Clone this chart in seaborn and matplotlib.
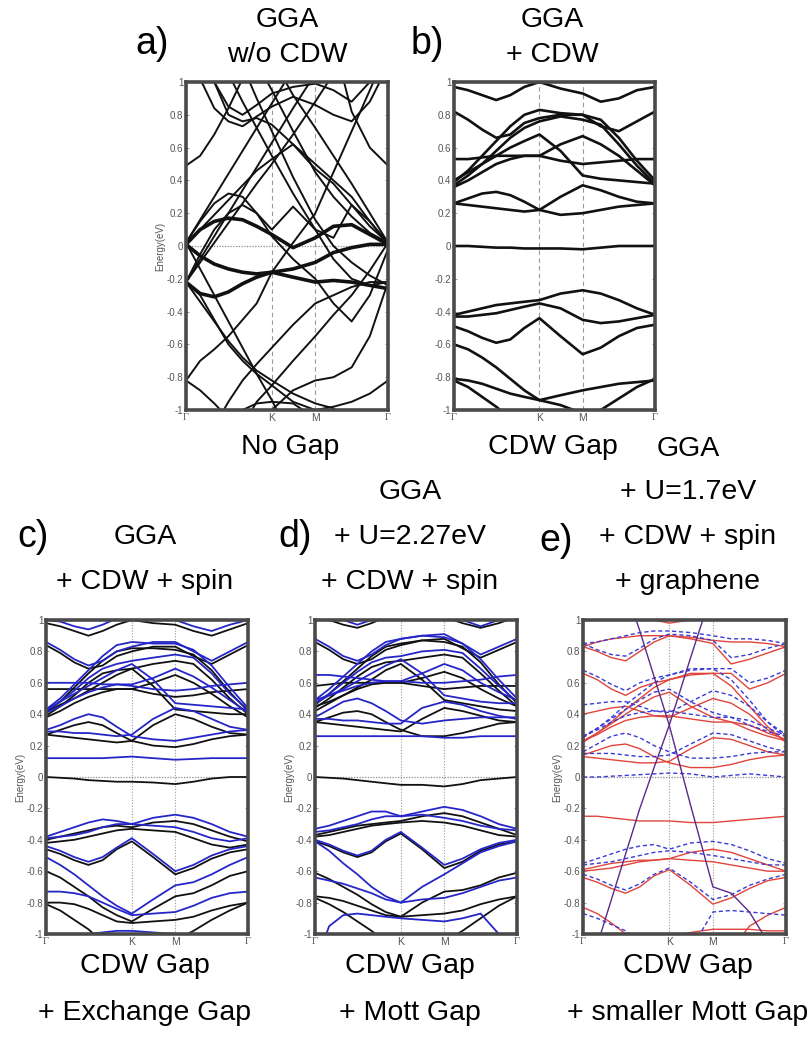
import matplotlib
matplotlib.use("Agg")
import matplotlib.pyplot as plt
import pandas as pd
import seaborn as sns

sns.set_theme(style="white")
plt.rcParams['font.family'] = ['Liberation Sans', 'DejaVu Sans']

TITLE_FONT = ["Liberation Sans", "DejaVu Sans"]
TITLE_SIZE, LABEL_SIZE = 20.5, 27

# k-path coordinate (Gamma - K - M - Gamma), normalised to 1
K_PATH = [0.0, 0.07, 0.14, 0.21, 0.28, 0.35, 0.425, 0.53, 0.64, 0.73, 0.82, 0.91, 1.0]
HS_POS = [0.0, 0.425, 0.64, 1.0]
HS_LABELS = ["Γ", "K", "M", "Γ"]
Y_TICKS = [1, 0.8, 0.6, 0.4, 0.2, 0, -0.2, -0.4, -0.6, -0.8, -1]
Y_TICK_LABELS = ["1", "0.8", "0.6", "0.4", "0.2", "0", "-0.2", "-0.4", "-0.6", "-0.8", "-1"]

# ---------------- a) GGA without CDW ----------------
bands_a_thick = {
    "t1": [0.01, 0.10, 0.15, 0.17, 0.16, 0.12, 0.07, -0.01, 0.05, 0.12, 0.13, 0.07, 0.01],
    "t2": [0.01, -0.06, -0.11, -0.14, -0.16, -0.17, -0.16, -0.14, -0.10, -0.04, -0.01, 0.01, 0.01],
    "t3": [-0.22, -0.29, -0.31, -0.28, -0.23, -0.19, -0.16, -0.19, -0.22, -0.21, -0.22, -0.24, -0.26],
}
bands_a_thin = {
    "a01": [0.49, 0.55, 0.68, 0.84, 1.02, 1.25, 1.40, 1.40, 1.40, 1.25, 0.82, 0.60, 0.49],
    "a02": [1.30, 1.02, 0.84, 0.76, 0.73, 0.79, 0.85, 0.91, 0.86, 0.80, 0.76, 0.88, 1.10],
    "a03": [1.40, 1.30, 1.00, 0.80, 0.76, 0.78, 0.74, 0.62, 0.50, 0.40, 0.30, 0.15, 0.02],
    "a04": [-0.22, -0.08, 0.06, 0.20, 0.34, 0.48, 0.63, 0.84, 1.05, 1.30, 1.40, 1.40, 1.40],
    "a05": [0.02, 0.16, 0.30, 0.44, 0.58, 0.72, 0.87, 1.08, 1.30, 1.40, 1.40, 1.40, 1.40],
    "a06": [0.02, 0.10, 0.19, 0.28, 0.37, 0.46, 0.53, 0.62, 0.47, 0.38, 0.25, 0.12, 0.02],
    "a07": [1.40, 1.40, 1.40, 1.40, 1.30, 1.12, 0.95, 0.70, 0.45, 0.30, 0.18, 0.08, 0.02],
    "a08": [1.40, 1.40, 1.40, 1.30, 1.10, 0.90, 0.70, 0.42, 0.16, 0.00, -0.10, -0.18, -0.24],
    "a09": [0.02, -0.14, -0.30, -0.46, -0.62, -0.78, -0.94, -1.20, -1.40, -1.40, -1.40, -1.40, -1.40],
    "a10": [-0.22, -0.34, -0.46, -0.58, -0.68, -0.76, -0.82, -0.90, -0.96, -0.99, -1.10, -1.30, -1.40],
    "a11": [-1.40, -1.40, -1.40, -1.30, -1.10, -0.95, -0.85, -0.70, -0.55, -0.42, -0.30, -0.15, 0.02],
    "a12": [-1.40, -1.30, -1.10, -0.95, -0.82, -0.72, -0.62, -0.48, -0.35, -0.30, -0.25, -0.22, -0.22],
    "a13": [0.02, 0.15, 0.26, 0.32, 0.30, 0.20, 0.06, -0.08, -0.20, -0.35, -0.46, -0.30, -0.02],
    "a14": [-0.22, -0.05, 0.10, 0.20, 0.25, 0.20, 0.10, 0.24, 0.10, 0.05, 0.25, 0.15, 0.01],
    "a15": [-0.22, -0.30, -0.45, -0.60, -0.70, -0.78, -0.85, -0.95, -1.00, -1.20, -1.40, -1.40, -1.40],
    "a16": [-0.82, -0.88, -0.96, -1.05, -1.00, -0.96, -0.95, -0.96, -1.05, -1.20, -1.40, -1.40, -1.40],
    "a17": [-1.40, -1.40, -1.40, -1.40, -1.30, -1.15, -1.00, -0.88, -0.82, -0.80, -0.74, -0.55, -0.22],
    "a18": [-1.40, -1.40, -1.40, -1.40, -1.40, -1.40, -1.30, -1.10, -1.00, -0.98, -0.95, -0.90, -0.82],
    "a19": [-0.82, -0.70, -0.63, -0.55, -0.45, -0.35, -0.16, 0.02, 0.20, 0.45, 0.70, 0.95, 1.20],
    "a20": [1.40, 1.40, 1.40, 1.40, 1.40, 1.30, 1.15, 0.92, 0.72, 0.55, 0.38, 0.20, 0.02],
    "a21": [-0.22, -0.10, 0.02, 0.14, 0.26, 0.38, 0.50, 0.68, 0.88, 1.05, 1.25, 1.40, 1.40],
    "a22": [1.40, 1.40, 1.25, 1.05, 0.88, 0.72, 0.55, 0.32, 0.10, -0.08, -0.20, -0.24, -0.22],
    "a23": [1.40, 1.20, 1.00, 0.85, 0.80, 0.86, 0.93, 0.97, 0.99, 0.95, 0.88, 1.00, 1.20],
}

# ---------------- b) GGA + CDW ----------------
bands_b = {
    "b01": [0.97, 0.95, 0.92, 0.89, 0.92, 0.97, 1.00, 0.96, 0.93, 0.88, 0.90, 0.95, 0.97],
    "b02": [0.82, 0.77, 0.71, 0.66, 0.68, 0.75, 0.78, 0.80, 0.80, 0.73, 0.70, 0.76, 0.82],
    "b03": [0.39, 0.46, 0.55, 0.64, 0.73, 0.80, 0.83, 0.81, 0.80, 0.77, 0.66, 0.52, 0.40],
    "b04": [0.37, 0.43, 0.50, 0.58, 0.66, 0.72, 0.76, 0.79, 0.77, 0.74, 0.62, 0.49, 0.38],
    "b05": [0.40, 0.45, 0.50, 0.55, 0.60, 0.64, 0.68, 0.58, 0.43, 0.41, 0.40, 0.39, 0.38],
    "b06": [0.53, 0.53, 0.54, 0.55, 0.55, 0.55, 0.55, 0.52, 0.50, 0.51, 0.52, 0.53, 0.53],
    "b07": [0.36, 0.40, 0.45, 0.50, 0.53, 0.55, 0.55, 0.62, 0.67, 0.62, 0.55, 0.46, 0.37],
    "b08": [0.26, 0.29, 0.32, 0.33, 0.31, 0.27, 0.22, 0.19, 0.20, 0.22, 0.24, 0.25, 0.26],
    "b09": [0.26, 0.25, 0.24, 0.23, 0.22, 0.21, 0.22, 0.30, 0.37, 0.34, 0.30, 0.27, 0.26],
    "b10": [0.00, 0.00, -0.005, -0.01, -0.01, -0.015, -0.015, -0.015, -0.02, -0.01, 0.00, 0.00, 0.00],
    "b11": [-0.42, -0.40, -0.38, -0.36, -0.35, -0.34, -0.33, -0.29, -0.27, -0.29, -0.33, -0.38, -0.42],
    "b12": [-0.43, -0.43, -0.42, -0.41, -0.39, -0.37, -0.35, -0.38, -0.45, -0.47, -0.46, -0.44, -0.42],
    "b13": [-0.49, -0.52, -0.56, -0.59, -0.57, -0.50, -0.44, -0.55, -0.66, -0.62, -0.55, -0.50, -0.48],
    "b14": [-0.60, -0.63, -0.68, -0.74, -0.81, -0.88, -0.94, -0.91, -0.88, -0.86, -0.84, -0.83, -0.82],
    "b15": [-0.81, -0.82, -0.84, -0.87, -0.90, -0.92, -0.94, -0.97, -1.02, -1.10, -1.20, -1.30, -1.40],
    "b16": [-0.82, -0.86, -0.92, -0.98, -1.05, -1.15, -1.30, -1.40, -1.40, -1.40, -1.40, -1.40, -1.40],
    "b17": [-1.40, -1.40, -1.40, -1.40, -1.40, -1.30, -1.20, -1.10, -1.05, -1.00, -0.93, -0.86, -0.81],
}

# ---------------- c) GGA + CDW + spin ----------------
bands_c_up = {
    "c01": [0.98, 0.96, 0.93, 0.90, 0.93, 0.97, 1.00, 0.98, 0.97, 0.93, 0.90, 0.94, 0.98],
    "c02": [0.84, 0.79, 0.73, 0.69, 0.71, 0.77, 0.80, 0.83, 0.83, 0.77, 0.72, 0.78, 0.84],
    "c03": [0.41, 0.48, 0.57, 0.66, 0.74, 0.80, 0.82, 0.82, 0.81, 0.78, 0.68, 0.54, 0.42],
    "c04": [0.39, 0.45, 0.52, 0.60, 0.66, 0.68, 0.69, 0.72, 0.74, 0.72, 0.62, 0.50, 0.40],
    "c05": [0.41, 0.46, 0.50, 0.55, 0.60, 0.65, 0.69, 0.58, 0.43, 0.42, 0.41, 0.40, 0.40],
    "c06": [0.56, 0.56, 0.56, 0.56, 0.56, 0.56, 0.56, 0.53, 0.51, 0.52, 0.54, 0.55, 0.56],
    "c07": [0.38, 0.42, 0.47, 0.51, 0.54, 0.56, 0.56, 0.60, 0.65, 0.60, 0.53, 0.45, 0.38],
    "c08": [0.27, 0.30, 0.33, 0.35, 0.33, 0.28, 0.23, 0.20, 0.19, 0.21, 0.24, 0.26, 0.27],
    "c09": [0.27, 0.26, 0.25, 0.24, 0.23, 0.22, 0.23, 0.33, 0.40, 0.37, 0.32, 0.28, 0.27],
    "c10": [0.00, -0.005, -0.01, -0.02, -0.025, -0.03, -0.03, -0.035, -0.045, -0.03, -0.01, 0.00, 0.00],
    "c11": [-0.40, -0.38, -0.36, -0.34, -0.32, -0.31, -0.32, -0.29, -0.28, -0.30, -0.34, -0.38, -0.41],
    "c12": [-0.42, -0.41, -0.40, -0.38, -0.36, -0.34, -0.33, -0.34, -0.35, -0.39, -0.43, -0.45, -0.43],
    "c13": [-0.46, -0.49, -0.53, -0.56, -0.53, -0.46, -0.41, -0.51, -0.62, -0.58, -0.52, -0.48, -0.46],
    "c14": [-0.60, -0.64, -0.70, -0.76, -0.83, -0.88, -0.92, -0.84, -0.76, -0.74, -0.69, -0.63, -0.60],
    "c15": [-0.80, -0.80, -0.81, -0.84, -0.88, -0.92, -0.93, -0.92, -0.91, -0.89, -0.85, -0.82, -0.80],
    "c16": [-0.81, -0.85, -0.91, -0.97, -1.05, -1.15, -1.30, -1.40, -1.40, -1.40, -1.40, -1.40, -1.40],
    "c17": [-1.40, -1.40, -1.40, -1.40, -1.40, -1.30, -1.20, -1.10, -1.04, -0.98, -0.91, -0.85, -0.80],
}
bands_c_dn = {
    "c01": [1.00, 0.99, 0.96, 0.94, 0.97, 1.01, 1.03, 1.01, 1.00, 0.96, 0.93, 0.97, 1.00],
    "c02": [0.86, 0.81, 0.75, 0.71, 0.74, 0.80, 0.83, 0.86, 0.86, 0.80, 0.74, 0.80, 0.86],
    "c03": [0.43, 0.50, 0.59, 0.68, 0.77, 0.84, 0.86, 0.85, 0.85, 0.81, 0.71, 0.57, 0.44],
    "c04": [0.42, 0.48, 0.55, 0.63, 0.69, 0.72, 0.74, 0.76, 0.78, 0.76, 0.66, 0.53, 0.43],
    "c05": [0.43, 0.48, 0.53, 0.58, 0.63, 0.68, 0.72, 0.62, 0.47, 0.46, 0.45, 0.44, 0.43],
    "c06": [0.60, 0.60, 0.60, 0.60, 0.59, 0.59, 0.58, 0.56, 0.55, 0.56, 0.58, 0.59, 0.60],
    "c07": [0.41, 0.45, 0.50, 0.54, 0.57, 0.59, 0.59, 0.63, 0.69, 0.64, 0.57, 0.49, 0.41],
    "c08": [0.30, 0.33, 0.37, 0.40, 0.38, 0.32, 0.26, 0.24, 0.23, 0.25, 0.27, 0.29, 0.30],
    "c09": [0.29, 0.29, 0.28, 0.28, 0.27, 0.26, 0.27, 0.37, 0.44, 0.42, 0.37, 0.32, 0.30],
    "c10": [0.12, 0.12, 0.12, 0.12, 0.12, 0.125, 0.13, 0.12, 0.11, 0.115, 0.12, 0.12, 0.12],
    "c11": [-0.38, -0.35, -0.32, -0.29, -0.27, -0.28, -0.30, -0.26, -0.24, -0.26, -0.30, -0.35, -0.38],
    "c12": [-0.39, -0.38, -0.37, -0.35, -0.32, -0.30, -0.30, -0.31, -0.32, -0.35, -0.39, -0.41, -0.39],
    "c13": [-0.44, -0.47, -0.51, -0.54, -0.51, -0.45, -0.39, -0.49, -0.60, -0.56, -0.50, -0.46, -0.44],
    "c14": [-0.51, -0.56, -0.62, -0.69, -0.76, -0.82, -0.87, -0.78, -0.69, -0.67, -0.62, -0.56, -0.51],
    "c15": [-0.73, -0.73, -0.74, -0.76, -0.80, -0.84, -0.88, -0.87, -0.86, -0.82, -0.77, -0.74, -0.73],
    "c16": [-1.30, -1.10, -1.03, -1.00, -0.99, -0.98, -0.98, -0.99, -1.00, -1.05, -1.20, -1.30, -1.40],
}

# ---------------- d) GGA + U=2.27eV + CDW + spin ----------------
bands_d_up = {
    "d01": [1.02, 1.00, 0.97, 0.95, 0.98, 1.02, 1.05, 1.03, 1.02, 0.98, 0.95, 0.98, 1.02],
    "d02": [0.86, 0.81, 0.75, 0.72, 0.75, 0.81, 0.84, 0.87, 0.88, 0.82, 0.76, 0.81, 0.86],
    "d03": [0.46, 0.53, 0.61, 0.69, 0.77, 0.83, 0.85, 0.87, 0.86, 0.83, 0.73, 0.59, 0.47],
    "d04": [0.44, 0.50, 0.57, 0.64, 0.70, 0.73, 0.74, 0.76, 0.78, 0.76, 0.66, 0.55, 0.45],
    "d05": [0.42, 0.47, 0.52, 0.57, 0.62, 0.68, 0.72, 0.62, 0.49, 0.47, 0.45, 0.43, 0.42],
    "d06": [0.58, 0.59, 0.60, 0.60, 0.60, 0.60, 0.60, 0.58, 0.56, 0.57, 0.58, 0.58, 0.58],
    "d07": [0.45, 0.48, 0.52, 0.56, 0.59, 0.60, 0.60, 0.63, 0.67, 0.63, 0.56, 0.50, 0.45],
    "d08": [0.35, 0.38, 0.41, 0.42, 0.40, 0.35, 0.30, 0.26, 0.26, 0.28, 0.31, 0.34, 0.35],
    "d09": [0.35, 0.34, 0.33, 0.32, 0.31, 0.30, 0.29, 0.37, 0.44, 0.42, 0.39, 0.36, 0.35],
    "d10": [0.00, -0.005, -0.01, -0.02, -0.03, -0.04, -0.05, -0.05, -0.06, -0.045, -0.02, -0.01, 0.00],
    "d11": [-0.37, -0.35, -0.33, -0.31, -0.30, -0.29, -0.28, -0.25, -0.23, -0.25, -0.29, -0.33, -0.37],
    "d12": [-0.38, -0.37, -0.35, -0.33, -0.31, -0.30, -0.29, -0.28, -0.29, -0.31, -0.34, -0.37, -0.38],
    "d13": [-0.41, -0.44, -0.48, -0.51, -0.48, -0.41, -0.36, -0.46, -0.58, -0.54, -0.47, -0.43, -0.41],
    "d14": [-0.61, -0.65, -0.70, -0.75, -0.81, -0.86, -0.89, -0.80, -0.73, -0.72, -0.69, -0.64, -0.61],
    "d15": [-0.76, -0.77, -0.79, -0.82, -0.85, -0.88, -0.89, -0.88, -0.87, -0.85, -0.81, -0.78, -0.76],
    "d16": [-0.77, -0.81, -0.86, -0.92, -0.98, -1.05, -1.20, -1.40, -1.40, -1.40, -1.40, -1.40, -1.40],
    "d17": [-1.40, -1.40, -1.40, -1.40, -1.40, -1.30, -1.20, -1.10, -1.05, -0.98, -0.90, -0.82, -0.76],
}
bands_d_dn = {
    "d01": [1.04, 1.03, 1.00, 0.97, 1.00, 1.04, 1.07, 1.05, 1.04, 1.00, 0.96, 1.00, 1.04],
    "d02": [0.88, 0.83, 0.77, 0.74, 0.78, 0.84, 0.88, 0.90, 0.91, 0.85, 0.78, 0.83, 0.88],
    "d03": [0.49, 0.56, 0.64, 0.72, 0.80, 0.86, 0.88, 0.90, 0.89, 0.85, 0.75, 0.62, 0.50],
    "d04": [0.47, 0.53, 0.60, 0.67, 0.73, 0.76, 0.77, 0.80, 0.81, 0.79, 0.69, 0.58, 0.48],
    "d05": [0.47, 0.52, 0.56, 0.61, 0.66, 0.71, 0.75, 0.66, 0.52, 0.50, 0.48, 0.47, 0.47],
    "d06": [0.65, 0.65, 0.64, 0.63, 0.62, 0.61, 0.61, 0.60, 0.60, 0.61, 0.62, 0.64, 0.65],
    "d07": [0.49, 0.52, 0.55, 0.58, 0.60, 0.61, 0.61, 0.66, 0.72, 0.68, 0.60, 0.54, 0.49],
    "d08": [0.38, 0.43, 0.48, 0.50, 0.47, 0.42, 0.36, 0.34, 0.36, 0.37, 0.38, 0.38, 0.38],
    "d09": [0.37, 0.37, 0.36, 0.36, 0.35, 0.34, 0.34, 0.44, 0.48, 0.46, 0.42, 0.39, 0.37],
    "d10": [0.26, 0.26, 0.26, 0.26, 0.26, 0.26, 0.26, 0.26, 0.25, 0.25, 0.26, 0.26, 0.26],
    "d11": [-0.33, -0.31, -0.28, -0.25, -0.22, -0.22, -0.25, -0.22, -0.19, -0.21, -0.25, -0.30, -0.33],
    "d12": [-0.35, -0.34, -0.32, -0.30, -0.27, -0.25, -0.25, -0.24, -0.26, -0.28, -0.31, -0.33, -0.34],
    "d13": [-0.40, -0.43, -0.47, -0.50, -0.47, -0.40, -0.35, -0.45, -0.56, -0.52, -0.46, -0.42, -0.40],
    "d14": [-0.41, -0.47, -0.55, -0.62, -0.70, -0.76, -0.80, -0.70, -0.62, -0.55, -0.48, -0.44, -0.41],
    "d15": [-0.64, -0.66, -0.68, -0.71, -0.74, -0.78, -0.80, -0.78, -0.77, -0.74, -0.70, -0.66, -0.64],
    "d16": [-1.20, -0.95, -0.88, -0.87, -0.88, -0.89, -0.90, -0.91, -0.92, -0.90, -0.87, -1.00, -1.20],
}

# ---------------- e) GGA + U=1.7eV + CDW + spin + graphene ----------------
bands_e_up = {
    "e01": [1.40, 1.40, 1.30, 1.15, 1.05, 1.00, 0.98, 1.00, 1.05, 1.20, 1.40, 1.40, 1.40],
    "e02": [0.83, 0.80, 0.76, 0.74, 0.80, 0.86, 0.90, 0.88, 0.85, 0.72, 0.75, 0.79, 0.83],
    "e03": [0.83, 0.86, 0.88, 0.89, 0.90, 0.90, 0.90, 0.89, 0.87, 0.86, 0.86, 0.85, 0.83],
    "e04": [0.66, 0.62, 0.56, 0.52, 0.57, 0.60, 0.62, 0.65, 0.66, 0.66, 0.56, 0.60, 0.66],
    "e05": [0.22, 0.28, 0.35, 0.43, 0.50, 0.57, 0.62, 0.66, 0.66, 0.58, 0.45, 0.32, 0.22],
    "e06": [0.23, 0.28, 0.34, 0.40, 0.46, 0.51, 0.54, 0.45, 0.38, 0.35, 0.30, 0.26, 0.23],
    "e07": [0.40, 0.42, 0.44, 0.45, 0.42, 0.39, 0.38, 0.44, 0.50, 0.47, 0.40, 0.30, 0.23],
    "e08": [0.23, 0.27, 0.32, 0.36, 0.38, 0.39, 0.39, 0.37, 0.35, 0.35, 0.33, 0.28, 0.24],
    "e09": [0.14, 0.17, 0.20, 0.21, 0.18, 0.13, 0.09, 0.06, 0.06, 0.08, 0.11, 0.13, 0.14],
    "e10": [0.13, 0.12, 0.11, 0.10, 0.09, 0.09, 0.10, 0.18, 0.25, 0.24, 0.20, 0.16, 0.14],
    "e11": [-0.25, -0.25, -0.26, -0.27, -0.28, -0.28, -0.28, -0.29, -0.29, -0.28, -0.27, -0.26, -0.25],
    "e12": [-0.59, -0.57, -0.55, -0.54, -0.53, -0.53, -0.52, -0.48, -0.46, -0.48, -0.52, -0.56, -0.60],
    "e13": [-0.60, -0.59, -0.58, -0.56, -0.54, -0.53, -0.52, -0.53, -0.54, -0.56, -0.58, -0.60, -0.60],
    "e14": [-0.64, -0.67, -0.71, -0.74, -0.70, -0.63, -0.59, -0.69, -0.81, -0.77, -0.71, -0.66, -0.64],
    "e15": [-0.83, -0.87, -0.93, -1.00, -1.10, -1.20, -1.40, -1.40, -1.40, -1.40, -1.40, -1.40, -1.40],
    "e16": [-1.40, -1.40, -1.30, -1.20, -1.10, -1.05, -1.02, -0.99, -0.97, -0.97, -0.97, -0.98, -0.98],
    "e17": [-1.40, -1.40, -1.40, -1.40, -1.40, -1.40, -1.40, -1.30, -1.20, -1.10, -0.95, -0.88, -0.83],
}
bands_e_dn = {
    "e01": [0.85, 0.86, 0.88, 0.90, 0.92, 0.93, 0.93, 0.92, 0.90, 0.88, 0.88, 0.87, 0.85],
    "e02": [0.85, 0.81, 0.78, 0.77, 0.82, 0.88, 0.91, 0.90, 0.87, 0.76, 0.78, 0.82, 0.85],
    "e03": [0.68, 0.64, 0.59, 0.55, 0.60, 0.63, 0.65, 0.68, 0.69, 0.69, 0.60, 0.63, 0.68],
    "e04": [0.25, 0.31, 0.38, 0.46, 0.53, 0.60, 0.65, 0.69, 0.69, 0.62, 0.49, 0.35, 0.25],
    "e05": [0.26, 0.31, 0.37, 0.43, 0.49, 0.54, 0.56, 0.48, 0.41, 0.38, 0.33, 0.29, 0.26],
    "e06": [0.46, 0.47, 0.48, 0.48, 0.45, 0.42, 0.41, 0.48, 0.55, 0.52, 0.45, 0.35, 0.27],
    "e07": [0.26, 0.30, 0.35, 0.39, 0.41, 0.42, 0.42, 0.40, 0.38, 0.38, 0.36, 0.31, 0.27],
    "e08": [0.16, 0.21, 0.26, 0.28, 0.25, 0.20, 0.16, 0.12, 0.12, 0.13, 0.15, 0.16, 0.16],
    "e09": [0.15, 0.15, 0.15, 0.14, 0.13, 0.13, 0.14, 0.21, 0.28, 0.27, 0.23, 0.19, 0.16],
    "e10": [0.00, 0.00, 0.005, 0.01, 0.015, 0.02, 0.025, 0.02, 0.00, 0.01, 0.02, 0.01, 0.00],
    "e11": [-0.55, -0.52, -0.49, -0.46, -0.44, -0.43, -0.46, -0.42, -0.41, -0.43, -0.47, -0.52, -0.55],
    "e12": [-0.56, -0.55, -0.54, -0.52, -0.50, -0.48, -0.47, -0.48, -0.50, -0.52, -0.54, -0.56, -0.56],
    "e13": [-0.62, -0.65, -0.69, -0.72, -0.68, -0.62, -0.58, -0.67, -0.78, -0.75, -0.69, -0.65, -0.62],
    "e14": [-0.87, -0.90, -0.94, -0.98, -1.05, -1.20, -1.40, -1.40, -1.40, -1.40, -1.40, -1.40, -1.40],
    "e15": [-1.40, -1.40, -1.40, -1.40, -1.40, -1.40, -1.30, -1.10, -0.86, -0.85, -0.86, -0.87, -0.88],
}
graphene_e = {
    "gA": [1.40, 1.40, 1.40, 1.20, 0.93, 0.64, 0.33, -0.18, -0.70, -0.74, -0.86, -1.05, -1.30],
    "gB": [-1.40, -1.07, -0.78, -0.49, -0.20, 0.06, 0.33, 0.76, 1.20, 1.40, 1.40, 1.40, 1.40],
}

BLACK = "#111111"
BLUE = "#2626c8"
RED = "#e0453c"
DASH_BLUE = "#3a3ad8"
PURPLE = "#5a2a8a"
FRAME = "#4a4a4a"
TICK_GREY = "#555555"


def to_frame(bands):
    rows = []
    for name, vals in bands.items():
        for k, e in zip(K_PATH, vals):
            rows.append((name, k, e))
    return pd.DataFrame(rows, columns=["band", "k", "E"])


def draw_bands(ax, bands, color, lw, ls="-"):
    df = to_frame(bands)
    sns.lineplot(data=df, x="k", y="E", units="band", estimator=None, sort=False,
                 color=color, linewidth=lw, linestyle=ls, ax=ax, legend=False)


def style_axes(ax, vline_style=(0, (4, 3)), zero_line=True):
    ax.set_xlim(0, 1)
    ax.set_ylim(-1, 1)
    for xp in HS_POS[1:3]:
        ax.axvline(xp, color="#9a9a9a", lw=0.8, ls=vline_style, zorder=0)
    if zero_line:
        ax.axhline(0, color="#8a8a8a", lw=0.9, ls=(0, (1, 1.2)), zorder=0)
    ax.set_xticks(HS_POS)
    ax.set_xticklabels(HS_LABELS)
    for lab in ax.get_xticklabels():
        lab.set_fontsize(7.5)
        lab.set_color(TICK_GREY)
        if lab.get_text() == "Γ":
            lab.set_family(["Liberation Serif", "DejaVu Serif"])
    ax.set_yticks(Y_TICKS)
    ax.set_yticklabels(Y_TICK_LABELS, fontsize=7, color=TICK_GREY)
    ax.tick_params(axis="both", direction="in", length=2.5, width=0.6, color="#888888",
                   pad=2, left=True, right=True, bottom=False, top=False)
    ax.set_xlabel("")
    ax.set_ylabel("")
    for sp in ax.spines.values():
        sp.set_visible(True)
        sp.set_color(FRAME)
        sp.set_linewidth(2.6)


W, H = 812, 1048
fig = plt.figure(figsize=(W / 100, H / 100), dpi=100)
fig.patch.set_facecolor("white")


def add_axes_px(x0, y0, x1, y1):
    return fig.add_axes([x0 / W, 1 - y1 / H, (x1 - x0) / W, (y1 - y0) / H])


ax_a = add_axes_px(186, 82, 388, 410)
ax_b = add_axes_px(454, 82, 655, 410)
ax_c = add_axes_px(46, 620, 248, 934)
ax_d = add_axes_px(315, 620, 517, 934)
ax_e = add_axes_px(583, 620, 786, 934)

# a)
draw_bands(ax_a, bands_a_thin, BLACK, 1.4)
draw_bands(ax_a, bands_a_thick, BLACK, 2.6)
style_axes(ax_a)
ax_a.set_ylabel("Energy(eV)", fontsize=7, color=TICK_GREY, labelpad=1)

# b)
draw_bands(ax_b, bands_b, BLACK, 1.9)
style_axes(ax_b, zero_line=False)

# c)
draw_bands(ax_c, bands_c_up, BLACK, 1.3)
draw_bands(ax_c, bands_c_dn, BLUE, 1.3)
style_axes(ax_c, vline_style=(0, (1, 1.5)))
ax_c.set_ylabel("Energy(eV)", fontsize=7, color=TICK_GREY, labelpad=1)

# d)
draw_bands(ax_d, bands_d_up, BLACK, 1.3)
draw_bands(ax_d, bands_d_dn, BLUE, 1.3)
style_axes(ax_d, vline_style=(0, (1, 1.5)))
ax_d.set_ylabel("Energy(eV)", fontsize=7, color=TICK_GREY, labelpad=1)

# e)
draw_bands(ax_e, bands_e_up, RED, 1.0)
draw_bands(ax_e, bands_e_dn, DASH_BLUE, 1.0, ls=(0, (3, 2)))
draw_bands(ax_e, graphene_e, PURPLE, 1.0)
style_axes(ax_e, vline_style=(0, (1, 1.5)))
ax_e.set_ylabel("Energy(eV)", fontsize=7, color=TICK_GREY, labelpad=1)


def put(text, x, y, size=None):
    fig.text(x / W, 1 - y / H, text, ha="center", va="center",
             fontsize=size or TITLE_SIZE, color="black", family=TITLE_FONT)


# panel labels
put("a)", 152, 44, LABEL_SIZE)
put("b)", 427, 44, LABEL_SIZE)
put("c)", 33, 537, LABEL_SIZE)
put("d)", 295, 537, LABEL_SIZE)
put("e)", 556, 541, LABEL_SIZE)

# top row titles
put("GGA", 287, 20)
put("w/o CDW", 287, 55)
put("GGA", 552, 20)
put("+ CDW", 552, 55)
put("No Gap", 290, 447)
put("CDW Gap", 553, 447)

# bottom row titles
put("GGA", 145, 537)
put("+ CDW + spin", 145, 582)
put("GGA", 410, 492)
put("+ U=2.27eV", 410, 537)
put("+ CDW + spin", 410, 582)
put("GGA", 688, 449)
put("+ U=1.7eV", 688, 492)
put("+ CDW + spin", 688, 537)
put("+ graphene", 688, 582)

put("CDW Gap", 145, 966)
put("+ Exchange Gap", 145, 1013)
put("CDW Gap", 410, 966)
put("+ Mott Gap", 410, 1013)
put("CDW Gap", 688, 966)
put("+ smaller Mott Gap", 688, 1013)

fig.savefig("out.png", dpi=100, facecolor="white")
